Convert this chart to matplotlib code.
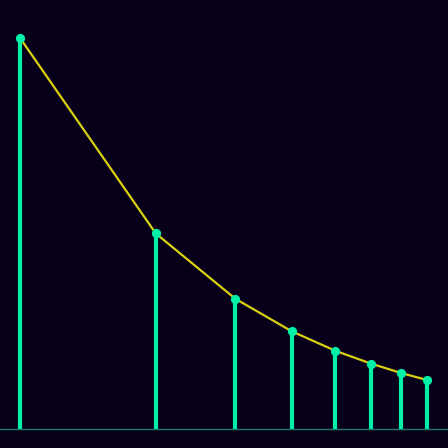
import numpy as np
import matplotlib
matplotlib.use("Agg")
import matplotlib.pyplot as plt

# stem positions (ln n) and heights (1/n)
n_vals = [1, 2, 3, 4, 5, 6, 7, 8]
x_vals = [0.0, 0.693, 1.099, 1.386, 1.609, 1.792, 1.946, 2.079]
y_vals = [1.0, 0.5, 0.333, 0.25, 0.2, 0.167, 0.143, 0.125]

bg = '#08001a'
stem_col = '#00f0a8'
line_col = '#d8d010'

fig = plt.figure(figsize=(4.48, 4.48), dpi=100, facecolor=bg)
ax = fig.add_axes([0, 0, 1, 1])
ax.set_facecolor(bg)

ax.axhline(0, color='#1f7a68', linewidth=1.0, zorder=1)
ax.vlines(x_vals, 0, y_vals, color=stem_col, linewidth=3, zorder=2)
ax.plot(x_vals, y_vals, color=line_col, linewidth=1.6, zorder=3)
ax.scatter(x_vals, y_vals, s=44, color=stem_col, zorder=4, linewidths=0)

ax.set_xlim(-0.102, 2.184)
ax.set_ylim(-0.0486, 1.097)
ax.axis('off')

fig.savefig('out.png', dpi=100, facecolor=bg)
